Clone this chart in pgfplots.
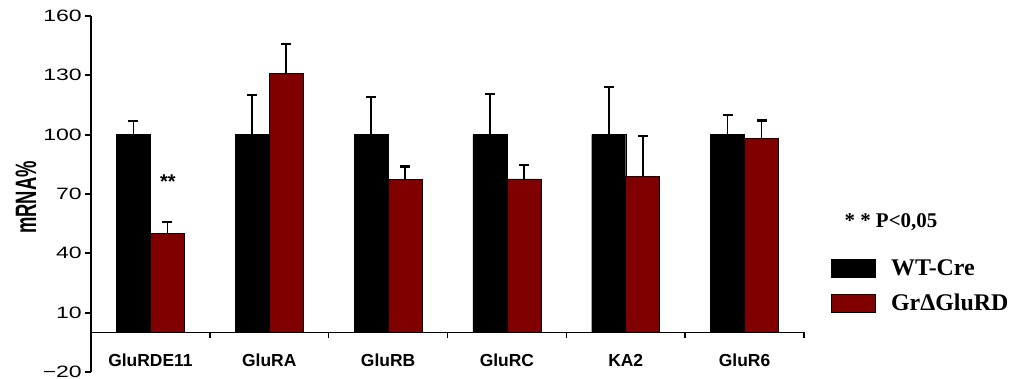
\documentclass[border=0pt]{standalone}
\usepackage{pgfplots}
\usepackage{pgfplotstable}
\pgfplotsset{compat=1.18}
\usepackage{fontspec}
\setmainfont{Liberation Sans}
\newfontfamily\serifb{Liberation Serif}
\newfontfamily\widesans[FakeStretch=1.4]{Liberation Sans}
\newfontfamily\ylabfont[FakeStretch=0.625]{Liberation Sans Bold}
\definecolor{grd}{RGB}{128,0,0}
\pgfplotstableread{
x y e t
-0.1431 100 7 107
0.8569 100 20 120
1.8569 100 19 119
2.8569 100 20.5 120.5
3.8569 100 24 124
4.8569 100 10 110
}\wt
\pgfplotstableread{
x y e t
0.1431 50 6 56
1.1431 131 15 146
2.1431 77.4 6.5 83.9
3.1431 77.6 7 84.6
4.1431 78.8 20.7 99.5
5.1431 98.2 9 107.2
}\gr
\begin{document}
\begin{tikzpicture}
\begin{axis}[
  name=main,
  scale only axis, width=713bp, height=356bp,
  xmin=-0.5, xmax=5.5, ymin=-20, ymax=160,
  axis x line*=middle, axis y line*=left,
  x axis line style={line width=1.2bp},
  y axis line style={line width=2bp},
  tick align=outside,
  ytick={-20,10,40,70,100,130,160},
  yticklabels={−20,10,40,70,100,130,160},
  y tick style={line width=2bp, black},
  major tick length=6bp,
  minor tick length=6bp,
  xtick={0,...,5},
  xticklabels={GluRDE11,GluRA,GluRB,GluRC,KA2,GluR6},
  major x tick style={draw=none},
  minor xtick={0.5,1.5,2.5,3.5,4.5,5.5},
  minor x tick style={line width=1.6bp, black},
  yticklabel style={font=\widesans\fontsize{16.5}{16.5}\selectfont, inner sep=3bp},
  xticklabel style={font=\bfseries\fontsize{17.5}{17.5}\selectfont, anchor=north, yshift=-12bp},
  ylabel={mRNA\%},
  ylabel style={font=\ylabfont\fontsize{29.6}{29.6}\selectfont, at={(axis description cs:-0.0912,0.49)}, anchor=center},
  legend style={at={(1.038,0.318)}, anchor=north west, draw=none, fill=none, inner sep=0pt,
    font=\serifb\bfseries\fontsize{24}{24}\selectfont, row sep=16bp,
    nodes={inner sep=0pt, outer sep=0pt}},
  legend cell align=left,
  legend image code/.code={\draw[#1, draw=black, line width=0.8bp] (0bp,-9bp) rectangle (44bp,9bp);},
  /tikz/every odd column/.style={column sep=15bp},
  error bars/error bar style={line width=1.6bp, black},
  error bars/error mark=none,
  clip=false,
]
\addplot[ybar, bar width=34bp, bar shift=0pt, fill=black, draw=black,
  error bars/.cd, y dir=plus, y explicit]
  table[x=x, y=y, y error=e] {\wt};
\addlegendentry{WT-Cre}
\addplot[ybar, bar width=34bp, bar shift=0pt, fill=grd, draw=black, line width=0.8bp,
  error bars/.cd, y dir=plus, y explicit]
  table[x=x, y=y, y error=e] {\gr};
\addlegendentry{GrΔGluRD}
\addplot[forget plot, only marks, mark=-, mark size=5bp, mark options={black, line width=2.2bp}]
  table[x=x, y=t] {\wt};
\addplot[forget plot, only marks, mark=-, mark size=5bp, mark options={black, line width=2.2bp}]
  table[x=x, y=t] {\gr};
\node[font=\bfseries\fontsize{20}{20}\selectfont] at (axis cs:0.148,76) {**};
\node[font=\serifb\bfseries\fontsize{21}{21}\selectfont, anchor=west] at (axis description cs:1.052,0.42) {* * P<0,05};
\end{axis}
\pgfresetboundingbox
\path[use as bounding box] (main.south west) ++(-91bp,-7bp) rectangle ++(1015bp,379bp);
\end{tikzpicture}
\end{document}
